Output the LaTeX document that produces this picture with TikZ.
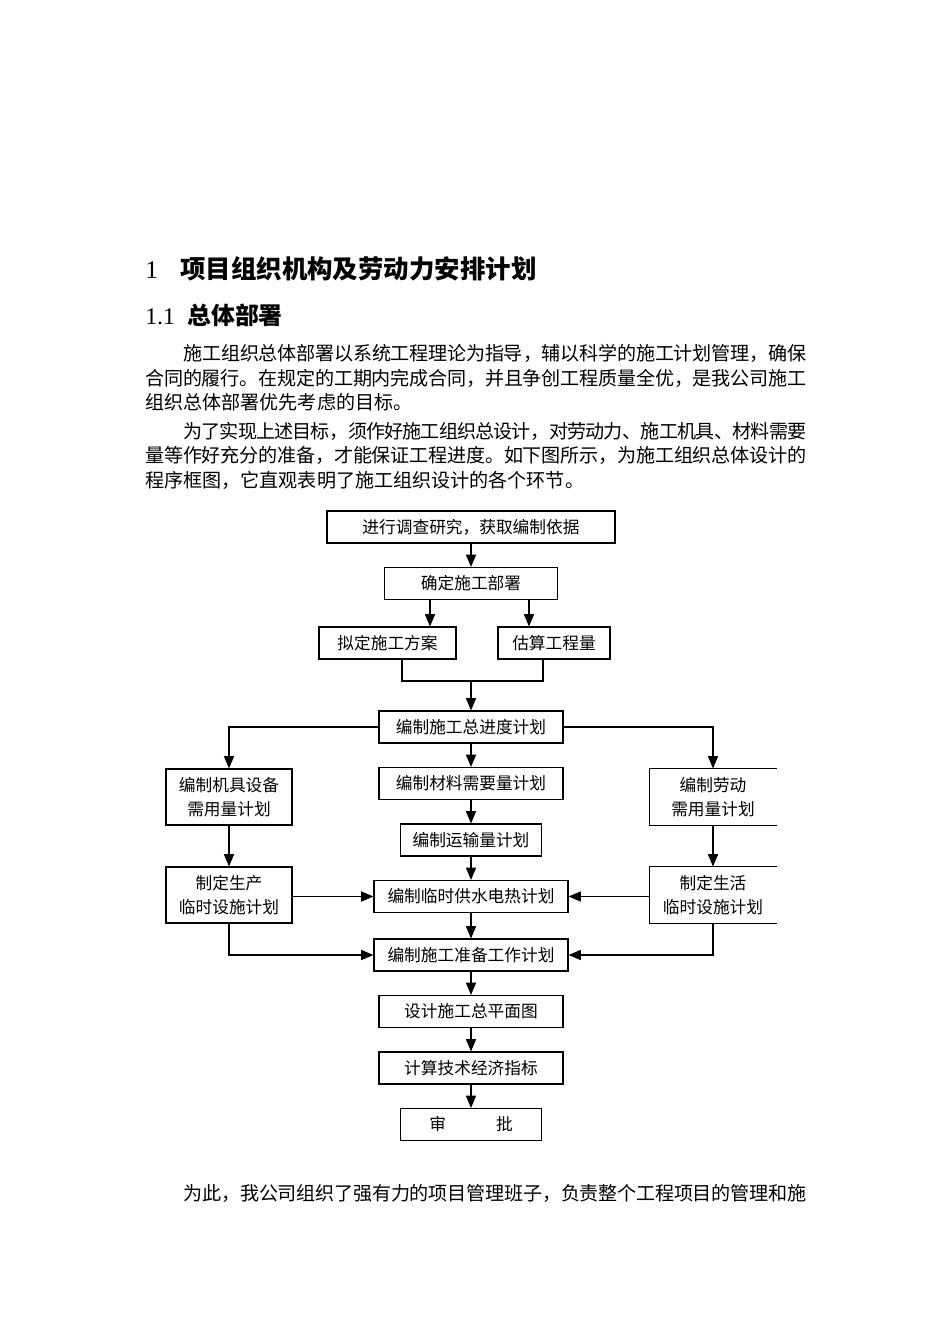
\documentclass[tikz,border=0pt]{standalone}
\usepackage{fontspec}
\setmainfont{Liberation Serif}
\newfontfamily\cjk{Noto Sans CJK SC}
\usetikzlibrary{arrows,positioning}
\XeTeXlinebreaklocale "zh"
\XeTeXlinebreakskip=0pt plus 1pt minus 0.6pt
\newlength\pxu
\setlength\pxu{0.22105mm}
\tikzstyle{box} = [rectangle, draw=black, line width=0.75pt, minimum height=32\pxu, inner sep=0pt, text centered, font=\cjk\fontsize{10.5}{15}\selectfont]
\tikzstyle{tallbox} = [box, minimum width=126\pxu, minimum height=56\pxu, align=center]
\tikzstyle{openbox} = [tallbox, draw=none]
\tikzstyle{para} = [anchor=north west, inner sep=0pt, text width=661\pxu, align=justify, font=\cjk\fontsize{12}{15.4}\selectfont]
\tikzstyle{heading} = [anchor=base west, inner sep=0pt, font=\fontsize{15}{18}\selectfont]
\tikzstyle{arrow} = [line width=0.75pt,->,>=triangle 45]
\tikzstyle{link} = [line width=0.75pt]
\begin{document}
\begin{tikzpicture}[x=0.22105mm, y=-0.22105mm, node distance=56.5\pxu]
	\path[fill=white] (0,0) rectangle (950,1344);
	\useasboundingbox (0,0) rectangle (950,1344);

	% headings and text
	\node (sec) [heading, font=\fontsize{16}{19}\selectfont] at (145,279) {1};
	\node (sectitle) [heading, font=\cjk\bfseries\fontsize{16}{19}\selectfont] at (180,279) {项目组织机构及劳动力安排计划};
	\node (sub) [heading] at (145,324) {1.1};
	\node (subtitle) [heading, font=\cjk\bfseries\fontsize{15}{18}\selectfont] at (187,324) {总体部署};
	\node (intro) [para] at (145,344) {\hspace*{2em}施工组织总体部署以系统工程理论为指导，辅以科学的施工计划管理，确保\linebreak 合同的履行。在规定的工期内完成合同，并且争创工程质量全优，是我公司施工\linebreak 组织总体部署优先考虑的目标。};
	\node (goal) [para] at (145,422) {\hspace*{2em}为了实现上述目标，须作好施工组织总设计，对劳动力、施工机具、材料需要\linebreak 量等作好充分的准备，才能保证工程进度。如下图所示，为施工组织总体设计的\linebreak 程序框图，它直观表明了施工组织设计的各个环节。};
	\node (team) [para] at (145,1184) {{\parfillskip=0pt \hspace*{2em}为此，我公司组织了强有力的项目管理班子，负责整个工程项目的管理和施\par}};

	% main column
	\node (survey) [box, minimum width=288\pxu] at (471,527) {进行调查研究，获取编制依据};
	\node (deploy) [box, minimum width=173\pxu, below of=survey] {确定施工部署};
	\node (scheme) [box, minimum width=137\pxu] at (387.5,643) {拟定施工方案};
	\node (quantity) [box, minimum width=112\pxu] at (554,643) {估算工程量};
	\node (master) [box, minimum width=184\pxu] at (471,727) {编制施工总进度计划};
	\node (material) [box, minimum width=184\pxu, below of=master] {编制材料需要量计划};
	\node (transport) [box, minimum width=141\pxu, below of=material] {编制运输量计划};
	\node (utility) [box, minimum width=194\pxu, below of=transport] {编制临时供水电热计划};
	\node (prepare) [box, minimum width=194\pxu, below of=utility, yshift=-2\pxu] {编制施工准备工作计划};
	\node (layout) [box, minimum width=184\pxu, below of=prepare] {设计施工总平面图};
	\node (index) [box, minimum width=184\pxu, below of=layout] {计算技术经济指标};
	\node (approve) [box, minimum width=141\pxu, below of=index] {审\hspace{3em}批};

	% side columns
	\node (machine) [tallbox] at (229,797) {编制机具设备\\需用量计划};
	\node (prodfac) [tallbox, below of=machine, yshift=-41.5\pxu] {制定生产\\临时设施计划};
	\node (labour) [openbox] at (713,797) {编制劳动\\需用量计划};
	\node (lifefac) [openbox, below of=labour, yshift=-41.5\pxu] {制定生活\\临时设施计划};
	\draw [link] (labour.north east) -- (labour.north west) -- (labour.south west) -- (labour.south east);
	\draw [link] (lifefac.north east) -- (lifefac.north west) -- (lifefac.south west) -- (lifefac.south east);

	\coordinate (lt) at (430,0);
	\coordinate (rt) at (529,0);
	\coordinate (jl) at (402,681);
	\coordinate (jm) at (471,681);
	\coordinate (jr) at (543,681);

	\draw [arrow] (survey) -- (deploy);
	\draw [arrow] (deploy.south -| lt) -- (scheme.north -| lt);
	\draw [arrow] (deploy.south -| rt) -- (quantity.north -| rt);
	\draw [link] (scheme.south -| jl) -- (jl) -- (jr) -- (quantity.south -| jr);
	\draw [arrow] (jm) -- (master);
	\draw [arrow] (master.west) -| (machine.north);
	\draw [arrow] (master.east) -| (labour.north);
	\draw [arrow] (master) -- (material);
	\draw [arrow] (material) -- (transport);
	\draw [arrow] (transport) -- (utility);
	\draw [arrow] (machine) -- (prodfac);
	\draw [arrow] (labour) -- (lifefac);
	\draw [arrow] (prodfac.east |- utility) -- (utility.west);
	\draw [arrow] (lifefac.west |- utility) -- (utility.east);
	\draw [arrow] (prodfac.south) |- (prepare.west);
	\draw [arrow] (lifefac.south) |- (prepare.east);
	\draw [arrow] (utility) -- (prepare);
	\draw [arrow] (prepare) -- (layout);
	\draw [arrow] (layout) -- (index);
	\draw [arrow] (index) -- (approve);
\end{tikzpicture}
\end{document}
